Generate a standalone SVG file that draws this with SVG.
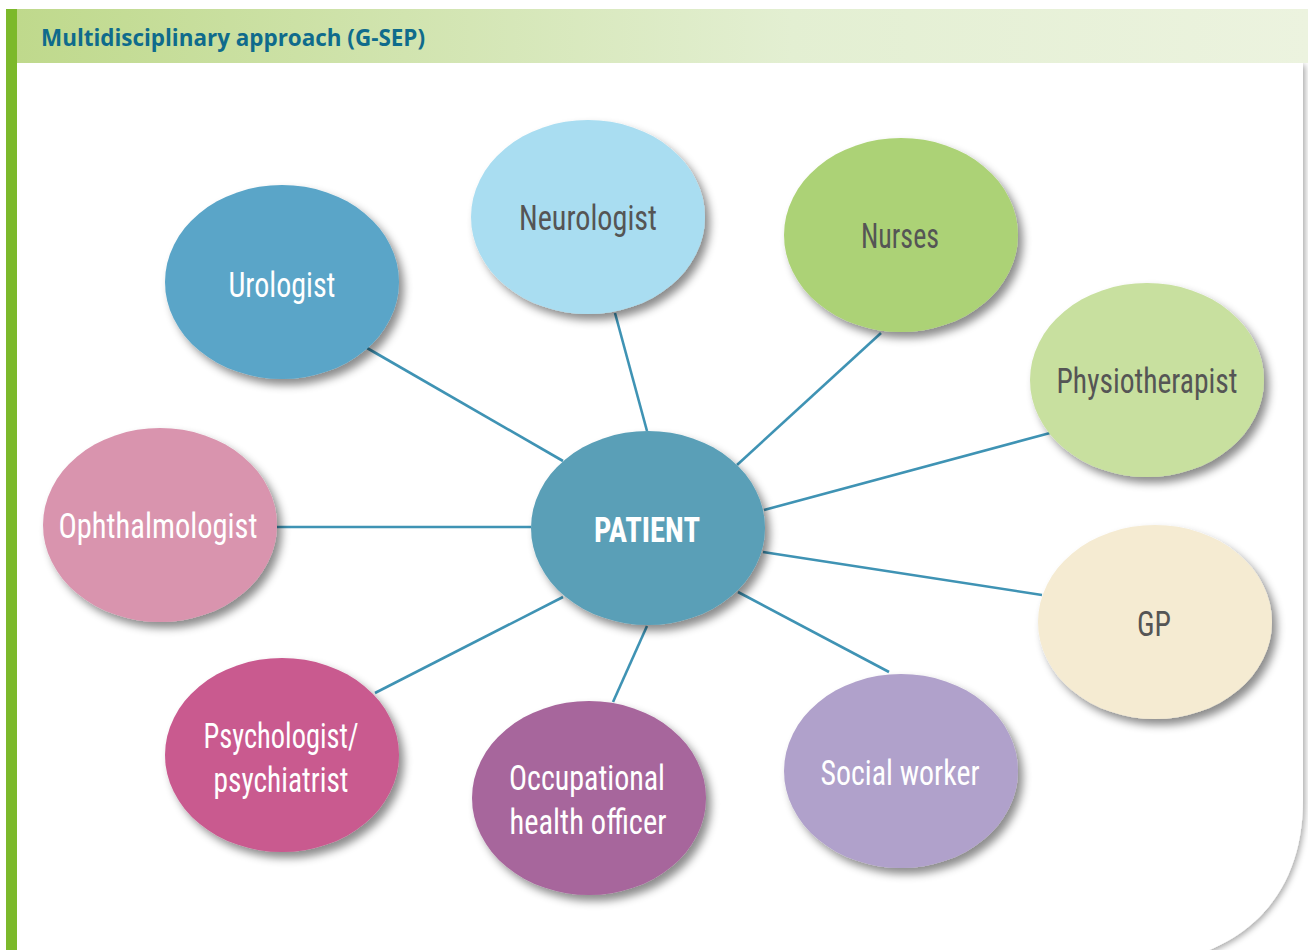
<svg xmlns="http://www.w3.org/2000/svg" width="1308" height="950" viewBox="0 0 1308 950">
<defs>
<linearGradient id="hdr" x1="0" y1="0" x2="1" y2="0">
<stop offset="0" stop-color="#bfd98c"/>
<stop offset="0.6" stop-color="#e3efd2"/>
<stop offset="1" stop-color="#ecf3df"/>
</linearGradient>
<filter id="sh" x="-20%" y="-20%" width="150%" height="150%">
<feDropShadow dx="5" dy="6" stdDeviation="4" flood-color="#000" flood-opacity="0.45"/>
</filter>
<filter id="psh" x="-5%" y="-5%" width="110%" height="110%">
<feDropShadow dx="2" dy="2" stdDeviation="3" flood-color="#000" flood-opacity="0.35"/>
</filter>
<style>
.n{filter:url(#sh)}
.t{font-family:"Roboto Condensed","DejaVu Sans Condensed","Liberation Sans Narrow","Liberation Sans",sans-serif;font-size:35px;text-anchor:middle}
.w{fill:#ffffff}
.d{fill:#555555}
.c line{stroke:#3f93b4;stroke-width:2.6;fill:none}
</style>
</defs>
<rect width="1308" height="950" fill="#ffffff"/>
<g id="panel">
<path d="M17 63 H1303 V800 C1303 880 1262 935 1192 956 H17 Z" fill="#ffffff" filter="url(#psh)"/>
<rect x="17" y="9" width="1291" height="54" fill="url(#hdr)"/>
<rect x="6" y="9" width="11" height="941" fill="#7cb92b"/>
<text x="41" y="46" font-family="'Open Sans','Liberation Sans',sans-serif" font-weight="bold" font-size="24" fill="#0f6b8c" textLength="384" lengthAdjust="spacingAndGlyphs">Multidisciplinary approach (G-SEP)</text>
</g>
<g id="connectors" class="c">
<line x1="367" y1="348" x2="563" y2="461"/>
<line x1="615" y1="313" x2="647" y2="431"/>
<line x1="881" y1="333" x2="737" y2="465"/>
<line x1="1050" y1="433" x2="764" y2="510"/>
<line x1="277" y1="527" x2="531" y2="527"/>
<line x1="763" y1="552" x2="1042" y2="595"/>
<line x1="738" y1="592" x2="889" y2="672"/>
<line x1="647" y1="626" x2="613" y2="702"/>
<line x1="563" y1="597" x2="375" y2="693"/>
</g>
<g id="urologist"><ellipse class="n" cx="282" cy="282" rx="117" ry="97" fill="#5aa5c8"/><text class="t w" x="282" y="297" textLength="107" lengthAdjust="spacingAndGlyphs">Urologist</text></g>
<g id="neurologist"><ellipse class="n" cx="588" cy="217" rx="117" ry="97" fill="#a9ddf1"/><text class="t d" x="588" y="230" textLength="138" lengthAdjust="spacingAndGlyphs">Neurologist</text></g>
<g id="nurses"><ellipse class="n" cx="901" cy="235" rx="117" ry="97" fill="#acd276"/><text class="t d" x="900" y="248" textLength="78" lengthAdjust="spacingAndGlyphs">Nurses</text></g>
<g id="physiotherapist"><ellipse class="n" cx="1147" cy="380" rx="117" ry="97" fill="#c8e09f"/><text class="t d" x="1147" y="393" textLength="181" lengthAdjust="spacingAndGlyphs">Physiotherapist</text></g>
<g id="ophthalmologist"><ellipse class="n" cx="160" cy="525" rx="117" ry="97" fill="#d994ae"/><text class="t w" x="158" y="538" textLength="199" lengthAdjust="spacingAndGlyphs">Ophthalmologist</text></g>
<g id="patient"><ellipse class="n" cx="648" cy="528" rx="117" ry="97" fill="#5a9fb7"/><text class="t w" x="647" y="542" font-weight="bold" textLength="106" lengthAdjust="spacingAndGlyphs">PATIENT</text></g>
<g id="gp"><ellipse class="n" cx="1155" cy="622" rx="117" ry="97" fill="#f5ebd2"/><text class="t d" x="1154" y="636" textLength="34" lengthAdjust="spacingAndGlyphs">GP</text></g>
<g id="psychologist"><ellipse class="n" cx="282" cy="755" rx="117" ry="97" fill="#c95a8f"/><text class="t w" x="281" y="748" textLength="155" lengthAdjust="spacingAndGlyphs">Psychologist/</text><text class="t w" x="281" y="792" textLength="135" lengthAdjust="spacingAndGlyphs">psychiatrist</text></g>
<g id="occupational"><ellipse class="n" cx="589" cy="798" rx="117" ry="97" fill="#a7669c"/><text class="t w" x="587" y="790" textLength="156" lengthAdjust="spacingAndGlyphs">Occupational</text><text class="t w" x="588" y="834" textLength="157" lengthAdjust="spacingAndGlyphs">health officer</text></g>
<g id="social"><ellipse class="n" cx="901" cy="771" rx="117" ry="97" fill="#b0a1cb"/><text class="t w" x="900" y="785" textLength="159" lengthAdjust="spacingAndGlyphs">Social worker</text></g>
</svg>
